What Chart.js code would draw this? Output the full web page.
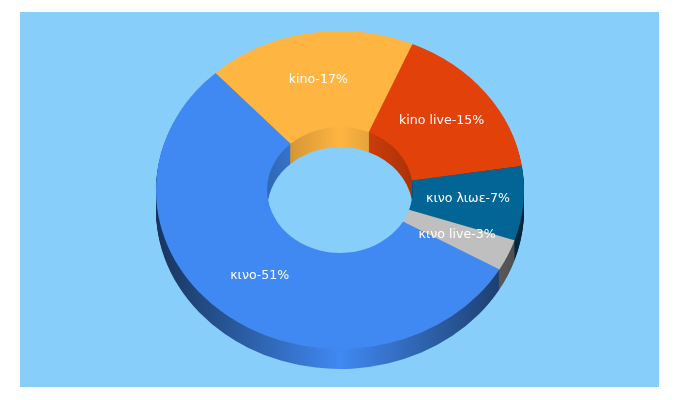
<!DOCTYPE html>
<html>
<head>
<meta charset="utf-8">
<title>κινο</title>
<script src="https://cdn.jsdelivr.net/npm/chart.js@4"></script>
<style>
  html, body { margin: 0; padding: 0; background: #fff; }
  #panel { position: absolute; left: 20px; top: 12px; width: 639px; height: 375px; background: #87cefb; }
  #pie { position: absolute; left: 0; top: 0; }
</style>
</head>
<body>
<div id="panel"></div>
<canvas id="pie" width="680" height="400"></canvas>
<script>
var categories = ['κινο', 'kino', 'kino live', 'κινο λιωε', 'κινο live'];
var shares = [51, 17, 15, 7, 3];
var colors = [[64, 137, 242], [255, 181, 65], [226, 66, 10], [3, 101, 149], [191, 191, 191]];

var squash = 0.864;
var depth = 20;

function rgb(c, k) {
  return 'rgb(' + Math.round(c[0] * k) + ',' + Math.round(c[1] * k) + ',' + Math.round(c[2] * k) + ')';
}

// side of the ring: darker towards the left and right edges
function sideFill(ctx, chart, c) {
  var arcs = chart.getDatasetMeta(0).data;
  var cx = arcs[0].x, r = arcs[0].outerRadius;
  var g = ctx.createLinearGradient(cx - r, 0, cx + r, 0);
  g.addColorStop(0, rgb(c, 0.38));
  g.addColorStop(0.5, rgb(c, 1));
  g.addColorStop(1, rgb(c, 0.38));
  return g;
}

var tilt = {
  id: 'tilt',
  beforeDatasetsDraw: function (chart) {
    var ctx = chart.ctx;
    var arcs = chart.getDatasetMeta(0).data;
    var cy = arcs[0].y;
    var fills = colors.map(function (c) { return sideFill(ctx, chart, c); });
    for (var d = depth; d >= 1; d--) {
      ctx.save();
      ctx.translate(0, cy + d);
      ctx.scale(1, squash);
      ctx.translate(0, -cy);
      arcs.forEach(function (arc, i) {
        var o = arc.options;
        arc.options = Object.assign({}, o, { backgroundColor: fills[i], borderColor: fills[i] });
        arc.draw(ctx);
        arc.options = o;
      });
      ctx.restore();
    }
    ctx.save();
    ctx.translate(0, cy);
    ctx.scale(1, squash);
    ctx.translate(0, -cy);
  },
  afterDatasetsDraw: function (chart) {
    chart.ctx.restore();
  },
  afterDraw: function (chart) {
    var ctx = chart.ctx;
    var arcs = chart.getDatasetMeta(0).data;
    ctx.save();
    ctx.font = '12.6px "DejaVu Sans"';
    ctx.fillStyle = '#fff';
    ctx.textAlign = 'center';
    ctx.textBaseline = 'middle';
    arcs.forEach(function (arc, i) {
      var p = arc.getCenterPoint();
      var y = arc.y + (p.y - arc.y) * squash - 1;
      ctx.fillText(categories[i] + '-' + shares[i] + '%', p.x, y);
    });
    ctx.restore();
  }
};

new Chart(document.getElementById('pie'), {
  type: 'doughnut',
  data: {
    labels: categories,
    datasets: [{
      data: shares,
      backgroundColor: colors.map(function (c) { return rgb(c, 1); }),
      borderWidth: 0
    }]
  },
  options: {
    responsive: false,
    animation: false,
    rotation: 120,
    cutout: '39.6%',
    layout: { padding: { top: 6, bottom: 26 } },
    plugins: { legend: { display: false }, tooltip: { enabled: false } }
  },
  plugins: [tilt]
});
</script>
</body>
</html>
